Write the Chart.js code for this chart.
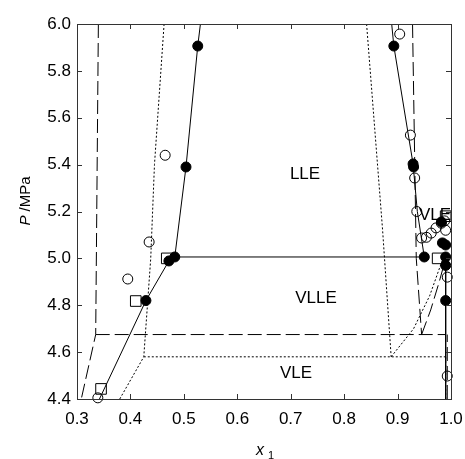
<!DOCTYPE html>
<html lang="en">
<head>
<meta charset="UTF-8">
<title>P-x diagram</title>
<style>
    body { margin: 0; background: #fff; }
    #chart { display: block; }
</style>
<script src="https://cdn.jsdelivr.net/npm/chart.js"></script>
</head>
<body>
<canvas id="chart" width="465" height="459"></canvas>
<script>
// axis ticks
const xTicks = [0.3, 0.4, 0.5, 0.6, 0.7, 0.8, 0.9, 1.0];
const pTicks = [4.4, 4.6, 4.8, 5.0, 5.2, 5.4, 5.6, 5.8, 6.0];

// experimental points (x1, P/MPa)
const filledX = [0.429, 0.472, 0.483, 0.504, 0.526, 0.893, 0.929, 0.930, 0.950, 0.982, 0.984, 0.990, 0.990, 0.990, 0.990];
const filledP = [4.82, 4.989, 5.006, 5.39, 5.906, 5.906, 5.403, 5.39, 5.006, 5.155, 5.066, 5.057, 5.006, 4.97, 4.82];
const openX = [0.339, 0.395, 0.435, 0.465, 0.904, 0.924, 0.932, 0.936, 0.945, 0.954, 0.963, 0.972, 0.982, 0.988, 0.990, 0.993, 0.993];
const openP = [4.405, 4.912, 5.07, 5.44, 5.957, 5.526, 5.343, 5.20, 5.087, 5.09, 5.108, 5.13, 5.15, 5.16, 5.12, 4.92, 4.498];
const squareX = [0.345, 0.410, 0.468, 0.975, 0.990];
const squareP = [4.443, 4.818, 5.0, 5.0, 5.18];

// solid curves
const solidL1X = [0.342, 0.429, 0.472, 0.483, 0.504, 0.526, 0.531];
const solidL1P = [4.4, 4.82, 4.989, 5.006, 5.39, 5.906, 6.0];
const tieX = [0.483, 0.950];
const tieP = [5.006, 5.006];
const solidL2X = [0.889, 0.893, 0.929, 0.937, 0.950];
const solidL2P = [6.0, 5.906, 5.403, 5.20, 5.006];
const solidVX = [0.990, 0.990];
const solidVP = [5.006, 4.4];

// long dashed model
const dashL1X = [0.340, 0.335, 0.308];
const dashL1P = [6.0, 4.675, 4.4];
const dash3X = [0.335, 0.990];
const dash3P = [4.675, 4.675];
const dashL2X = [0.928, 0.935, 0.945];
const dashL2P = [6.0, 5.0, 4.675];
const dashL2VX = [0.945, 0.962, 0.978, 0.990];
const dashL2VP = [4.675, 4.78, 4.90, 5.0];
const dashVX = [0.993, 0.993];
const dashVP = [4.4, 4.675];

// dotted model
const dotL1X = [0.463, 0.445, 0.438, 0.425, 0.380];
const dotL1P = [6.0, 5.4, 5.0, 4.58, 4.4];
const dot3X = [0.425, 0.990];
const dot3P = [4.58, 4.58];
const dotL2X = [0.842, 0.872, 0.888];
const dotL2P = [6.0, 5.12, 4.58];
const dotL2VX = [0.888, 0.930, 0.960, 0.985];
const dotL2VP = [4.58, 4.70, 4.84, 5.0];
const dotVX = [0.990, 0.990];
const dotVP = [4.4, 4.58];

function pts(xs, ps) {
    return xs.map((v, i) => ({ x: v, y: ps[i] }));
}

function curve(xs, ps, dash) {
    return {
        data: pts(xs, ps),
        showLine: true,
        borderColor: '#000',
        borderWidth: 1,
        borderDash: dash,
        pointRadius: 0,
        tension: 0
    };
}

const LONG = [14, 5];
const DOT = [2, 2];

const labels = [
    { text: 'LLE', x: 305, y: 174 },
    { text: 'VLLE', x: 316, y: 298 },
    { text: 'VLE', x: 296, y: 373 },
    { text: 'VLE', x: 435, y: 215 }
];

const frame = {
    id: 'frame',
    beforeDatasetsDraw(chart) {
        const ctx = chart.ctx;
        ctx.save();
        ctx.fillStyle = '#000';
        ctx.font = '17px "Liberation Sans", Arial, sans-serif';
        ctx.textAlign = 'center';
        ctx.textBaseline = 'middle';
        labels.forEach(l => ctx.fillText(l.text, l.x, l.y));
        ctx.restore();
    },
    afterDraw(chart) {
        const { ctx, chartArea: a, scales: { x, y } } = chart;
        ctx.save();
        ctx.strokeStyle = '#333';
        ctx.lineWidth = 1;
        ctx.strokeRect(a.left + 0.5, a.top + 0.5, a.right - a.left, a.bottom - a.top);
        ctx.beginPath();
        x.ticks.forEach(t => {
            const px = Math.round(x.getPixelForValue(t.value)) + 0.5;
            ctx.moveTo(px, a.bottom); ctx.lineTo(px, a.bottom - 5);
            ctx.moveTo(px, a.top); ctx.lineTo(px, a.top + 5);
        });
        y.ticks.forEach(t => {
            const py = Math.round(y.getPixelForValue(t.value)) + 0.5;
            ctx.moveTo(a.left, py); ctx.lineTo(a.left + 5, py);
            ctx.moveTo(a.right, py); ctx.lineTo(a.right - 5, py);
        });
        ctx.stroke();

        // axis titles
        ctx.fillStyle = '#000';
        ctx.textBaseline = 'alphabetic';
        ctx.font = 'italic 16px "Liberation Sans", Arial, sans-serif';
        ctx.fillText('x', 256, 455);
        ctx.font = '11px "Liberation Sans", Arial, sans-serif';
        ctx.fillText('1', 268, 459);

        ctx.translate(30, 201);
        ctx.rotate(-Math.PI / 2);
        ctx.font = 'italic 15px "Liberation Sans", Arial, sans-serif';
        const w1 = ctx.measureText('P').width;
        ctx.font = '15px "Liberation Sans", Arial, sans-serif';
        const w2 = ctx.measureText(' /MPa').width;
        ctx.textAlign = 'left';
        ctx.font = 'italic 15px "Liberation Sans", Arial, sans-serif';
        ctx.fillText('P', -(w1 + w2) / 2, 0);
        ctx.font = '15px "Liberation Sans", Arial, sans-serif';
        ctx.fillText(' /MPa', -(w1 + w2) / 2 + w1, 0);
        ctx.restore();
    }
};

const marker = (xs, ps, style, fill, r) => ({
    data: pts(xs, ps),
    showLine: false,
    pointStyle: style,
    pointRadius: r,
    pointHoverRadius: r,
    pointBorderWidth: 1,
    pointBorderColor: '#000',
    pointBackgroundColor: fill,
    clip: false
});

new Chart(document.getElementById('chart'), {
    type: 'scatter',
    data: {
        datasets: [
            curve(solidL1X, solidL1P, []),
            curve(tieX, tieP, []),
            curve(solidL2X, solidL2P, []),
            curve(solidVX, solidVP, []),
            curve(dashL1X, dashL1P, LONG),
            curve(dash3X, dash3P, LONG),
            curve(dashL2X, dashL2P, LONG),
            curve(dashL2VX, dashL2VP, LONG),
            curve(dashVX, dashVP, LONG),
            curve(dotL1X, dotL1P, DOT),
            curve(dot3X, dot3P, DOT),
            curve(dotL2X, dotL2P, DOT),
            curve(dotL2VX, dotL2VP, DOT),
            curve(dotVX, dotVP, DOT),
            marker(openX, openP, 'circle', 'rgba(0,0,0,0)', 5),
            marker(squareX, squareP, 'rect', 'rgba(0,0,0,0)', 7.5),
            marker(filledX, filledP, 'circle', '#000', 5)
        ]
    },
    options: {
        responsive: false,
        animation: false,
        events: [],
        layout: { padding: { top: 24, right: 14, left: 0, bottom: 0 } },
        plugins: { legend: { display: false }, tooltip: { enabled: false } },
        scales: {
            x: {
                type: 'linear',
                min: 0.3,
                max: 1.0,
                afterBuildTicks: s => { s.ticks = xTicks.map(v => ({ value: v })); },
                afterFit: s => { s.height = 60; s.paddingLeft = 0; s.paddingRight = 0; },
                grid: { display: false, drawTicks: false },
                border: { display: false },
                ticks: {
                    padding: 10,
                    color: '#000',
                    font: { family: '"Liberation Sans", Arial, sans-serif', size: 17 },
                    callback: v => v.toFixed(1)
                }
            },
            y: {
                type: 'linear',
                min: 4.4,
                max: 6.0,
                afterBuildTicks: s => { s.ticks = pTicks.map(v => ({ value: v })); },
                afterFit: s => { s.width = 77; s.paddingTop = 0; s.paddingBottom = 0; },
                grid: { display: false, drawTicks: false },
                border: { display: false },
                ticks: {
                    padding: 6,
                    color: '#000',
                    font: { family: '"Liberation Sans", Arial, sans-serif', size: 17 },
                    callback: v => v.toFixed(1)
                }
            }
        }
    },
    plugins: [frame]
});
</script>
</body>
</html>
